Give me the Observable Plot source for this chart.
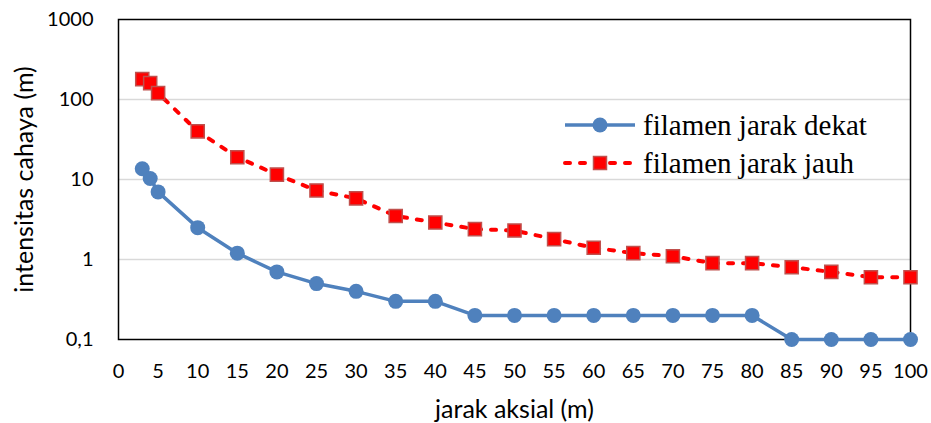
<!DOCTYPE html>
<html><head><meta charset="utf-8">
<script src="https://cdn.jsdelivr.net/npm/d3@7"></script>
<script src="https://cdn.jsdelivr.net/npm/@observablehq/plot@0.6"></script>
<style>
html,body{margin:0;padding:0;background:#fff;}
#wrap{position:relative;width:931px;height:423px;}
#legend{position:absolute;left:0;top:0;pointer-events:none;}
g[aria-label="x-axis label"] text, g[aria-label="y-axis label"] text{font-size:25px;}
</style></head><body><div id="wrap"></div>
<script>
// ---- data ----
const xValues = [3,4,5,10,15,20,25,30,35,40,45,50,55,60,65,70,75,80,85,90,95,100];
const dekat = [13.6,10.3,7,2.5,1.2,0.7,0.5,0.4,0.3,0.3,0.2,0.2,0.2,0.2,0.2,0.2,0.2,0.2,0.1,0.1,0.1,0.1];
const jauh = [180,160,120,40,19,11.5,7.3,5.8,3.5,2.9,2.4,2.3,1.8,1.4,1.2,1.1,0.9,0.9,0.8,0.7,0.6,0.6];
const seriesNames = ["filamen jarak dekat","filamen jarak jauh"];
const xTicks = [0,5,10,15,20,25,30,35,40,45,50,55,60,65,70,75,80,85,90,95,100];
const yTicks = [0.1,1,10,100,1000];
const yTickLabels = ["0,1","1","10","100","1000"];
const xTitle = "jarak aksial (m)";
const yTitle = "intensitas cahaya (m)";

const dekatData = xValues.map((x,i)=>({x, y:dekat[i]}));
const jauhData = xValues.map((x,i)=>({x, y:jauh[i]}));

const BLUE = "#4f81bd", RED = "#ff0000", RED_EDGE = "#c0504d";

const chart = Plot.plot({
  width: 931, height: 423,
  marginLeft: 118, marginRight: 21, marginTop: 19, marginBottom: 84,
  style: {fontFamily: "Lato", fontSize: "20px", color: "#000", background: "#fff"},
  x: {type: "linear", domain: [0, 100]},
  y: {type: "log", domain: [0.1, 1000]},
  marks: [
    Plot.gridY([1, 10, 100], {stroke: "#d9d9d9", strokeOpacity: 1, strokeWidth: 1.5}),
    Plot.axisX(xTicks, {tickSize: 0, tickPadding: 24, fontSize: 20, label: xTitle, labelAnchor: "center", labelOffset: 78, labelArrow: "none"}),
    Plot.axisY(yTicks, {tickSize: 0, tickPadding: 25, fontSize: 20, tickFormat: d => yTickLabels[yTicks.indexOf(d)], label: yTitle, labelAnchor: "center", labelOffset: 103, labelArrow: "none"}),
    Plot.frame({stroke: "#000", strokeWidth: 1.5}),
    Plot.line(jauhData, {x: "x", y: "y", stroke: RED, strokeWidth: 4, strokeDasharray: "5,10", strokeLinecap: "round"}),
    Plot.dot(jauhData, {x: "x", y: "y", symbol: "square", r: 7.4, fill: RED, stroke: RED_EDGE, strokeWidth: 1.5}),
    Plot.line(dekatData, {x: "x", y: "y", stroke: BLUE, strokeWidth: 3.5}),
    Plot.dot(dekatData, {x: "x", y: "y", r: 7.5, fill: BLUE, stroke: "none"})
  ]
});
document.getElementById("wrap").appendChild(chart);

// ---- legend (inside plot area, top right) ----
const ns = "http://www.w3.org/2000/svg";
const lg = d3.select("#wrap").append("svg").attr("id","legend").attr("width",931).attr("height",423);
const rows = [
  {name: seriesNames[0], y: 125, stroke: BLUE, dash: null, width: 3.5, marker: "circle"},
  {name: seriesNames[1], y: 163, stroke: RED, dash: "5,10", width: 4, marker: "square"}
];
rows.forEach(r => {
  const g = lg.append("g");
  g.append("line").attr("x1",565).attr("x2",635).attr("y1",r.y).attr("y2",r.y)
    .attr("stroke",r.stroke).attr("stroke-width",r.width)
    .attr("stroke-dasharray",r.dash).attr("stroke-linecap", r.dash ? "round" : "butt");
  if (r.marker === "circle") g.append("circle").attr("cx",600).attr("cy",r.y).attr("r",7.5).attr("fill",BLUE);
  else g.append("rect").attr("x",593.5).attr("y",r.y-6.5).attr("width",13).attr("height",13).attr("fill",RED).attr("stroke",RED_EDGE).attr("stroke-width",1.5);
  g.append("text").attr("x",643).attr("y",r.y+10).attr("font-family","'Liberation Serif', serif").attr("font-size",29).attr("fill","#000").text(r.name);
});
</script></body></html>
